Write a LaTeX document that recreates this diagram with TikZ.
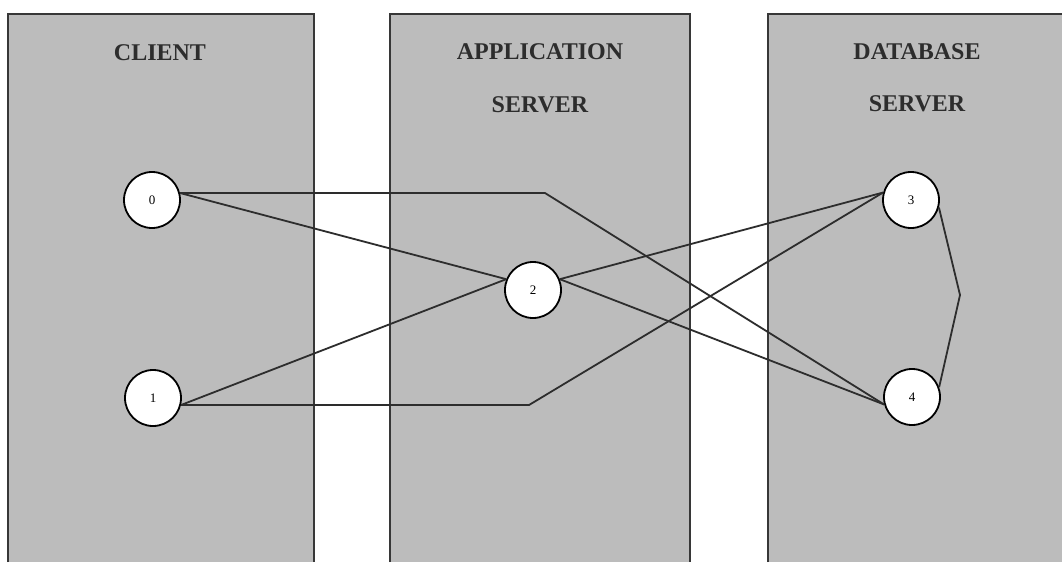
\documentclass[tikz,border=0pt]{standalone}
\usepackage{fontspec}
\setmainfont{Liberation Serif}
\begin{document}
\begin{tikzpicture}[x=1pt,y=-1pt,
  panel/.style={fill=panelgray},
  panelborder/.style={draw=bordergray,line width=1.5pt},
  title/.style={font=\bfseries\fontsize{24}{24}\selectfont,text=titlegray,inner sep=0pt},
  vertex/.style={circle,draw=black,line width=1.8pt,fill=white,minimum size=56pt,inner sep=0pt,font=\fontsize{13}{13}\selectfont},
  link/.style={draw=linegray,line width=1.8pt}
]
\definecolor{panelgray}{RGB}{188,188,188}
\definecolor{bordergray}{RGB}{55,55,55}
\definecolor{titlegray}{RGB}{45,45,45}
\definecolor{linegray}{RGB}{45,45,45}
\useasboundingbox[fill=white] (0,0) rectangle (1062,562);
% panels
\fill[panel] (8,14) rectangle (314,562);
\fill[panel] (390,14) rectangle (690,562);
\fill[panel] (768,14) rectangle (1062,562);
\draw[panelborder] (8,562) -- (8,14) -- (314,14) -- (314,562);
\draw[panelborder] (390,562) -- (390,14) -- (690,14) -- (690,562);
\draw[panelborder] (768,562) -- (768,14) -- (1062,14);
% titles
\node[title] (tclient) at (160,53) {CLIENT};
\node[title] (tapp1) at (540,52) {APPLICATION};
\node[title] (tapp2) at (540,105) {SERVER};
\node[title] (tdb1) at (917,52) {DATABASE};
\node[title] (tdb2) at (917,104) {SERVER};
% nodes
\node[vertex] (n0) at (152,200) {0};
\node[vertex] (n1) at (153,398) {1};
\node[vertex] (n2) at (533,290) {2};
\node[vertex] (n3) at (911,200) {3};
\node[vertex] (n4) at (912,397) {4};
% bend points
\coordinate (b0) at (545,193);
\coordinate (b1) at (529,405);
\coordinate (k) at (960,295);
% connectors
\draw[link] (n0.14) -- (n0.14 -| b0) -- (n4.195);
\draw[link] (n0.14) -- (n2.158);
\draw[link] (n1.-14) -- (n1.-14 -| b1) -- (n3.165);
\draw[link] (n1.-14) -- (n2.158);
\draw[link] (n2.22) -- (n3.165);
\draw[link] (n2.22) -- (n4.195);
\draw[link] (n3.-15) -- (k) -- (n4.20);
\end{tikzpicture}
\end{document}
